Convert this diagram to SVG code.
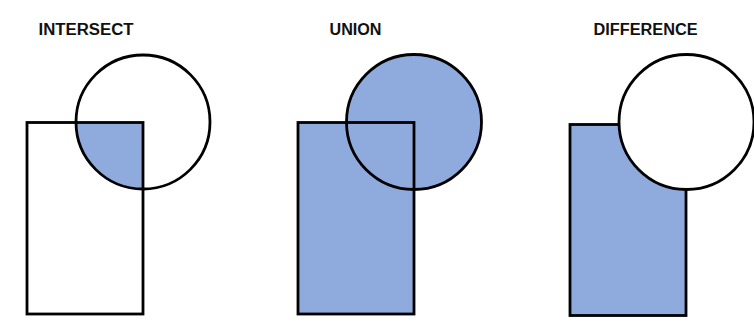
<svg xmlns="http://www.w3.org/2000/svg" width="754" height="326" viewBox="0 0 754 326">
<defs>
<style>
.t{font-family:"Liberation Sans",Arial,sans-serif;font-weight:bold;font-size:16px;fill:#111}
.s{stroke:#000;stroke-width:2.8;fill:none}
.b{fill:#8FAADC}
</style>
<clipPath id="c1"><rect x="27" y="122.5" width="116" height="192"/></clipPath>
</defs>
<rect width="754" height="326" fill="#fff"/>
<g id="intersect">
<text class="t" x="38.5" y="34.5" textLength="95" lengthAdjust="spacingAndGlyphs">INTERSECT</text>
<circle class="b" cx="143" cy="122" r="67" clip-path="url(#c1)"/>
<rect class="s" x="27" y="122.5" width="116" height="191.5"/>
<circle class="s" cx="143" cy="122" r="67"/>
</g>
<g id="union">
<text class="t" x="329.5" y="34.5" textLength="52" lengthAdjust="spacingAndGlyphs">UNION</text>
<rect class="b" x="298" y="122.5" width="116" height="191.5"/>
<circle class="b" cx="414" cy="122" r="67.5"/>
<rect class="s" x="298" y="122.5" width="116" height="191.5"/>
<circle class="s" cx="414" cy="122" r="67.5"/>
</g>
<g id="difference">
<text class="t" x="593.5" y="34.5" textLength="104" lengthAdjust="spacingAndGlyphs">DIFFERENCE</text>
<rect class="b s" x="570" y="124.5" width="116" height="191" style="fill:#8FAADC"/>
<circle class="s" cx="686.5" cy="122" r="67.5" style="fill:#fff"/>
</g>
</svg>
